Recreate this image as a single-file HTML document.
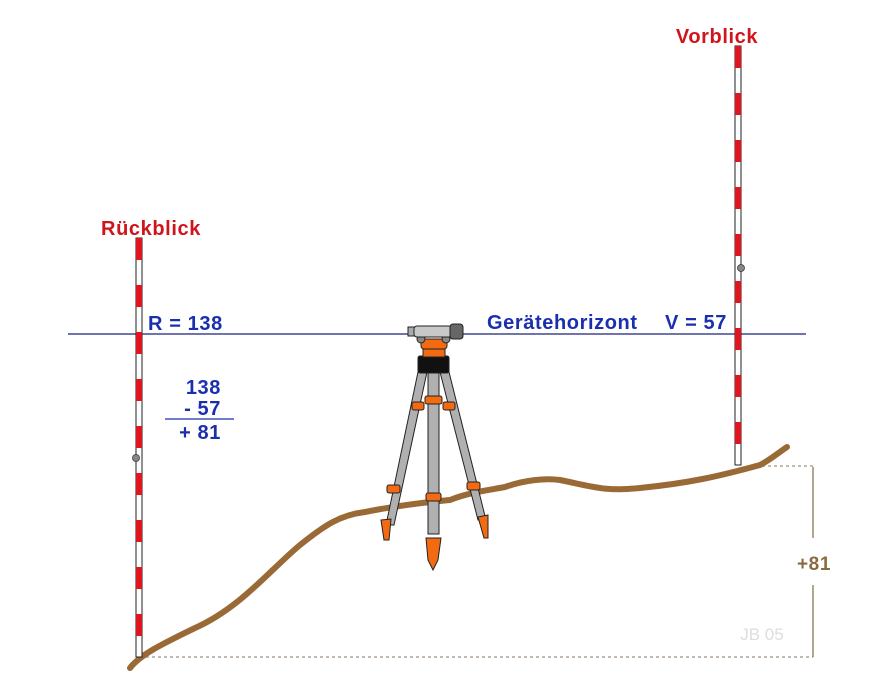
<!DOCTYPE html>
<html><head><meta charset="utf-8"><style>
body{margin:0;background:#fff;width:880px;height:689px;overflow:hidden}
svg{display:block}
text{font-family:"Liberation Sans",Arial,sans-serif;font-weight:700;letter-spacing:0.6px}
</style></head><body>
<svg width="880" height="689" viewBox="0 0 880 689">
<g stroke="#a09080" stroke-width="1.3" stroke-dasharray="3,3" fill="none">
<line x1="140" y1="657" x2="813" y2="657"/>
<line x1="762" y1="466" x2="813" y2="466"/>
</g>
<g stroke="#8a7558" stroke-width="1.3">
<line x1="813" y1="467" x2="813" y2="538"/>
<line x1="813" y1="585" x2="813" y2="657"/>
</g>
<text x="814" y="570" font-size="19" fill="#8a6a40" text-anchor="middle">+81</text>
<text x="762" y="640" font-size="17" fill="#ddd" text-anchor="middle" style="font-weight:normal;letter-spacing:0">JB 05</text>
<path d="M130,668 C140,655 160,645 195,628 C240,608 270,570 300,545 C325,525 340,515 365,512 C400,505 430,502 450,500 C470,492 490,490 505,487 C525,480 545,478 560,480 C590,486 605,492 640,488 C690,483 720,476 760,465 C770,460 778,453 787,447" fill="none" stroke="#9a6a36" stroke-width="6" stroke-linecap="round"/>
<line x1="68" y1="334" x2="806" y2="334" stroke="#1a237e" stroke-width="1.2"/>
<g>
<rect x="136" y="238" width="6" height="419" fill="#fff" stroke="#222" stroke-width="1"/>
<g fill="#e0151d" id="lstripes"></g>
<circle cx="136" cy="458" r="3.5" fill="#888" stroke="#333" stroke-width="0.8"/>
</g>
<g>
<rect x="735" y="46" width="6" height="419" fill="#fff" stroke="#222" stroke-width="1"/>
<g fill="#e0151d" id="rstripes"></g>
<circle cx="741" cy="268" r="3.5" fill="#888" stroke="#333" stroke-width="0.8"/>
</g>
<text x="151" y="235" font-size="20" fill="#d0141c" text-anchor="middle">Rückblick</text>
<text x="717" y="43" font-size="20" fill="#d0141c" text-anchor="middle">Vorblick</text>
<text x="148" y="330" font-size="20" fill="#1a2fb0">R = 138</text>
<text x="487" y="329" font-size="20" fill="#1a2fb0">Gerätehorizont</text>
<text x="665" y="329" font-size="20" fill="#1a2fb0">V = 57</text>
<g fill="#1a2fb0" font-size="20">
<text x="221" y="394" text-anchor="end">138</text>
<text x="221" y="415" text-anchor="end">- 57</text>
<line x1="165" y1="419" x2="234" y2="419" stroke="#1a2fb0" stroke-width="1.2"/>
<text x="221" y="439" text-anchor="end">+ 81</text>
</g>
<g stroke="#222" stroke-width="1">
<polygon points="418,372 427,372 394,525 386,525" fill="#b0b0b0"/>
<polygon points="440,372 449,372 486,520 478,520" fill="#b0b0b0"/>
<rect x="428" y="372" width="11" height="162" fill="#b0b0b0"/>
<polygon points="381,520 391,519 389,540 384,540" fill="#f26a12"/>
<polygon points="478,517 488,515 488,538 484,538" fill="#f26a12"/>
<polygon points="426,538 441,538 438,560 433,570 428,560" fill="#f26a12"/>
<rect x="426" y="493" width="15" height="8" rx="2" fill="#f26a12"/>
<rect x="387" y="485" width="13" height="8" rx="2" fill="#f26a12"/>
<rect x="467" y="482" width="13" height="8" rx="2" fill="#f26a12"/>
<rect x="425" y="396" width="17" height="8" rx="2" fill="#f26a12"/>
<rect x="412" y="402" width="12" height="8" rx="2" fill="#f26a12"/>
<rect x="443" y="402" width="12" height="8" rx="2" fill="#f26a12"/>
<rect x="418" y="356" width="31" height="17" rx="2" fill="#111"/>
<rect x="423" y="349" width="22" height="8" fill="#f26a12"/>
<rect x="421" y="339" width="26" height="10" rx="3" fill="#f26a12"/>
<circle cx="421" cy="339" r="4" fill="#888"/><circle cx="446" cy="339" r="4" fill="#888"/>
<rect x="408" y="327" width="8" height="9" fill="#aaa"/>
<rect x="414" y="326" width="38" height="11" rx="3" fill="#c8c8c8"/>
<rect x="450" y="324" width="13" height="15" rx="3" fill="#666"/>
</g>
</svg>
<script>
function stripes(id,x,y0,y1){
 var g=document.getElementById(id);
 for(var y=y0;y<y1-5;y+=47){
  var r=document.createElementNS('http://www.w3.org/2000/svg','rect');
  
  
  r.setAttribute('x',x);r.setAttribute('y',y);r.setAttribute('width',6);
  r.setAttribute('height',Math.min(22,y1-y));
  g.appendChild(r);
 }
}
stripes('lstripes',136,238,657);
stripes('rstripes',735,46,465);
</script>
</body></html>
